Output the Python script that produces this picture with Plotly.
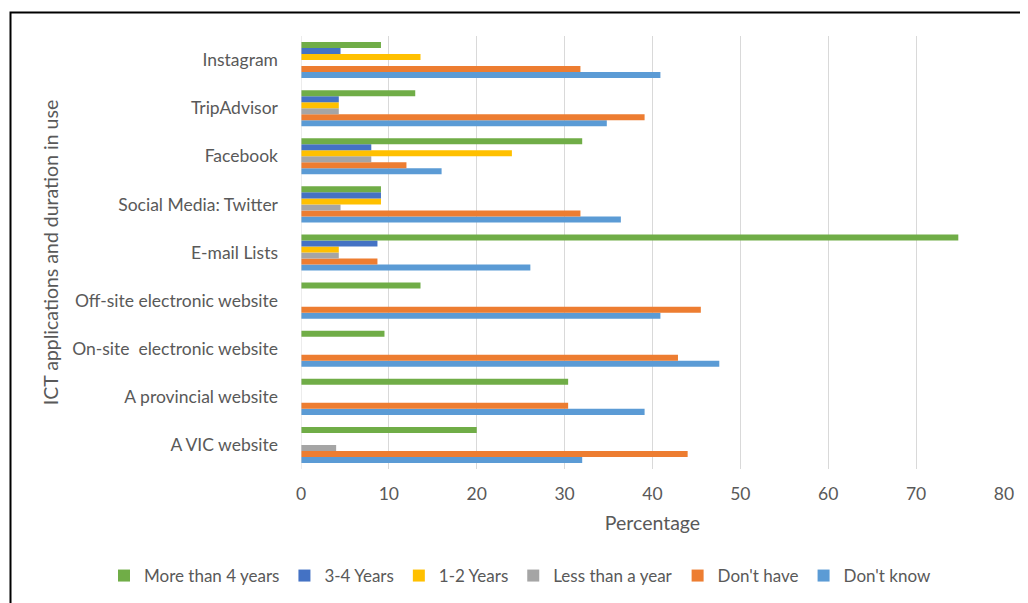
import plotly.graph_objects as go

categories = ["A VIC website", "A provincial website", "On-site  electronic website",
              "Off-site electronic website", "E-mail Lists", "Social Media: Twitter",
              "Facebook", "TripAdvisor", "Instagram"]

more_than_4 = [20.0, 30.4, 9.5, 13.6, 74.8, 9.1, 32.0, 13.0, 9.1]
y3_4 = [0, 0, 0, 0, 8.7, 9.1, 8.0, 4.3, 4.5]
y1_2 = [0, 0, 0, 0, 4.3, 9.1, 24.0, 4.3, 13.6]
less_than_year = [4.0, 0, 0, 0, 4.3, 4.5, 8.0, 4.3, 0]
dont_have = [44.0, 30.4, 42.9, 45.5, 8.7, 31.8, 12.0, 39.1, 31.8]
dont_know = [32.0, 39.1, 47.6, 40.9, 26.1, 36.4, 16.0, 34.8, 40.9]

series = [
    ("More than 4 years", more_than_4, "#70AD47"),
    ("3-4 Years", y3_4, "#4472C4"),
    ("1-2 Years", y1_2, "#FFC000"),
    ("Less than a year", less_than_year, "#A5A5A5"),
    ("Don't have", dont_have, "#ED7D31"),
    ("Don't know", dont_know, "#5B9BD5"),
]

x_ticks = [0, 10, 20, 30, 40, 50, 60, 70, 80]

FONT = "Lato, 'Open Sans', sans-serif"
TXT = "#595959"

# the page body adds an 8px offset, so figure coords = screen coords - 8
OFF = 8
W, H = 1028, 603
L, T = 301 - OFF, 36 - OFF
PR, PB = 1004 - OFF, 469 - OFF
R, B = W - PR, H - PB
PW, PH = PR - L, PB - T

fig = go.Figure()
# add in reverse so that the first series sits at the top of each group
for rank, (name, vals, col) in reversed(list(enumerate(series))):
    fig.add_trace(go.Bar(
        y=categories, x=vals, name=name, orientation="h",
        marker=dict(color=col, line=dict(width=0)),
        legendrank=rank + 1,
    ))

fig.update_layout(
    width=W, height=H,
    barmode="group", bargap=0.25, bargroupgap=0,
    paper_bgcolor="white", plot_bgcolor="white",
    margin=dict(l=L, r=R, t=T, b=B, autoexpand=False),
    font=dict(family=FONT, color=TXT, size=16),
    xaxis=dict(
        range=[0, 80], tickvals=x_ticks, showgrid=True, gridcolor="#D9D9D9",
        gridwidth=1, zeroline=False, showline=False, ticks="", automargin=False,
        tickfont=dict(size=17.5, color=TXT), ticklabelstandoff=12,
        title=dict(text="Percentage", font=dict(size=19.5, color=TXT), standoff=13),
    ),
    yaxis=dict(
        categoryorder="array", categoryarray=categories, automargin=False,
        showgrid=False, zeroline=False, showline=False, ticks="",
        tickfont=dict(size=17.5, color=TXT), ticklabelstandoff=22,
        title=dict(text="ICT applications and duration in use",
                   font=dict(size=19.5, color=TXT), standoff=8),
    ),
    legend=dict(
        orientation="h", xref="paper", yref="paper",
        x=(96 - L) / PW, xanchor="left",
        y=-(576 - OFF - PB) / PH, yanchor="middle",
        font=dict(size=17, color=TXT), itemwidth=30,
        tracegroupgap=0, traceorder="normal", bgcolor="rgba(0,0,0,0)",
    ),
    showlegend=True,
)

# vertical axis line at x=0
fig.add_shape(type="line", xref="x", yref="paper", x0=0, x1=0, y0=0, y1=1,
              line=dict(color="#D9D9D9", width=1))
# outer frame
fig.add_shape(type="rect", xref="paper", yref="paper",
              x0=(10.5 - OFF - L) / PW, x1=(W + 20 - L) / PW,
              y0=-(H + 20 - PB) / PH, y1=(PB - (12.5 - OFF)) / PH,
              line=dict(color="black", width=2), fillcolor="rgba(0,0,0,0)",
              layer="above")

fig.write_html("out.html")
